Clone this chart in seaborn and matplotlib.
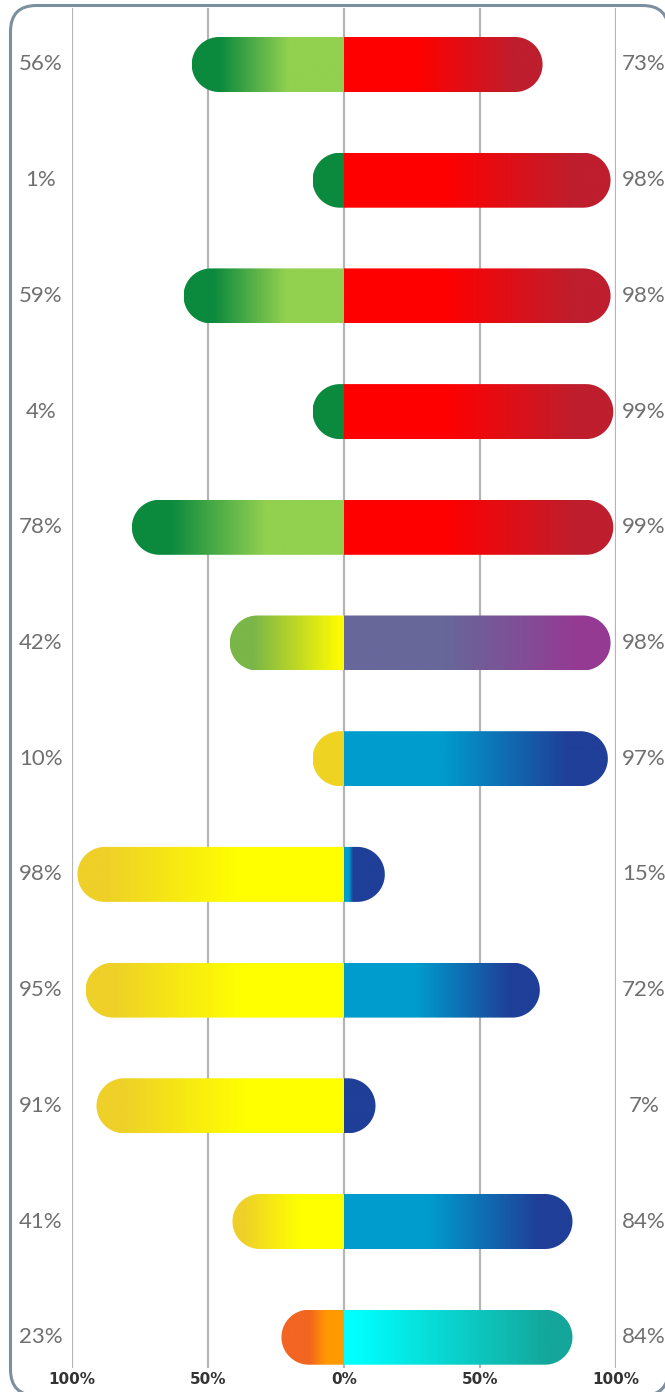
import numpy as np
import pandas as pd
import matplotlib
matplotlib.use("Agg")
import matplotlib.pyplot as plt
import seaborn as sns
from matplotlib import font_manager
from matplotlib.colors import LinearSegmentedColormap
from matplotlib.patches import Polygon, FancyBboxPatch

# ════════════════════════════════════════════════════════
# DATA
# ════════════════════════════════════════════════════════
rows = [f"row{i}" for i in range(12)]
left_values = [56, 1, 59, 4, 78, 42, 10, 98, 95, 91, 41, 23]
right_values = [73, 98, 98, 99, 99, 98, 97, 15, 72, 7, 84, 84]
tick_values = [-100, -50, 0, 50, 100]
tick_labels = ["100%", "50%", "0%", "50%", "100%"]

# colour stops: 0 = centre line, 1 = rounded outer end
GREEN = [(0, "#92d050"), (0.37, "#92d050"), (0.82, "#0b8a3e"), (1, "#0b8a3e")]
DARK_GREEN = [(0, "#0b8a3e"), (1, "#0b8a3e")]
LIME = [(0, "#ffff00"), (0.1, "#f6f606"), (0.8, "#7ab648"), (1, "#7ab648")]
GOLD = [(0, "#efd322"), (1, "#efd322")]
YELLOW = [(0, "#ffff00"), (0.4, "#ffff00"), (0.9, "#eed028"), (1, "#eed028")]
ORANGE = [(0, "#ff9900"), (0.28, "#ff9900"), (0.55, "#f26522"), (1, "#f26522")]
RED = [(0, "#ff0000"), (0.37, "#ff0000"), (0.86, "#be1e2d"), (1, "#be1e2d")]
PURPLE = [(0, "#67679a"), (0.38, "#67679a"), (0.88, "#953a93"), (1, "#953a93")]
BLUE = [(0, "#009ccd"), (0.37, "#009ccd"), (0.85, "#1f3f98"), (1, "#1f3f98")]
BLUE_SHORT = [(0, "#009ccd"), (0.12, "#009ccd"), (0.22, "#1f3f98"), (1, "#1f3f98")]
NAVY = [(0, "#1f3f98"), (1, "#1f3f98")]
CYAN = [(0, "#00ffff"), (0.05, "#00ffff"), (0.9, "#14a69a"), (1, "#14a69a")]

left_colors = [GREEN, DARK_GREEN, GREEN, DARK_GREEN, GREEN, LIME, GOLD,
               YELLOW, YELLOW, YELLOW, YELLOW, ORANGE]
right_colors = [RED, RED, RED, RED, RED, PURPLE, BLUE,
                BLUE_SHORT, BLUE, NAVY, BLUE, CYAN]

# ════════════════════════════════════════════════════════
# STYLE
# ════════════════════════════════════════════════════════
sns.set_theme(style="white")
names = {f.name for f in font_manager.fontManager.ttflist}
LABEL_FONT = "Liberation Sans Narrow" if "Liberation Sans Narrow" in names else "Lato"
plt.rcParams["font.family"] = ["DejaVu Sans"]

W, H = 665, 1392
AX_L, AX_R, AX_T, AX_B = 72, 616, 8, 1368
ROW0, ROW_STEP, BAR_PX = 64.5, 115.7, 55

fig = plt.figure(figsize=(W / 100, H / 100), dpi=100)

# rounded frame in pixel space
bg = fig.add_axes([0, 0, 1, 1], zorder=0)
bg.set_xlim(0, W)
bg.set_ylim(H, 0)
bg.axis("off")
bg.add_patch(FancyBboxPatch((10.5, 5.5), 658, 1390,
                            boxstyle="round,pad=0,rounding_size=26",
                            fc="white", ec="#7b909e", lw=2.2))

ax = fig.add_axes([AX_L / W, 1 - AX_B / H, (AX_R - AX_L) / W, (AX_B - AX_T) / H], zorder=1)
ax.patch.set_alpha(0)

# ════════════════════════════════════════════════════════
# BARS
# ════════════════════════════════════════════════════════
df_left = pd.DataFrame({"row": rows, "value": [-v for v in left_values]})
df_right = pd.DataFrame({"row": rows, "value": right_values})
bar_w = BAR_PX / ROW_STEP
for d in (df_left, df_right):
    sns.barplot(data=d, x="value", y="row", order=rows, orient="h", width=bar_w,
                color="grey", errorbar=None, ax=ax)

ax.set_xlim(-100, 100)
ax.set_ylim((AX_B - ROW0) / ROW_STEP, (AX_T - ROW0) / ROW_STEP)

sx = (AX_R - AX_L) / 200.0
r_px = BAR_PX / 2
rx = r_px / sx
min_len = (r_px + 4) / sx


def draw_pill(p, stops):
    w = p.get_width()
    side = 1 if w >= 0 else -1
    length = max(abs(w), min_len)
    yc = p.get_y() + p.get_height() / 2
    ry = p.get_height() / 2
    theta = np.linspace(-np.pi / 2, np.pi / 2, 80)
    cx = side * (length - rx)
    arc_x = cx + side * rx * np.cos(theta)
    arc_y = yc + ry * np.sin(theta)
    pts = np.column_stack([np.r_[0, arc_x, 0], np.r_[yc - ry, arc_y, yc + ry]])

    cmap = LinearSegmentedColormap.from_list("g", stops)
    img = cmap(np.linspace(0, 1, 300))[None, :, :]
    if side < 0:
        img = img[:, ::-1]
    xa, xb = sorted([0, side * length])
    im = ax.imshow(img, extent=(xa, xb, yc + ry, yc - ry), aspect="auto",
                   interpolation="bilinear", zorder=2)
    im.set_clip_path(Polygon(pts, closed=True, transform=ax.transData))
    p.set_visible(False)


patches = list(ax.patches)
for p, stops in zip(patches[:12], left_colors):
    draw_pill(p, stops)
for p, stops in zip(patches[12:24], right_colors):
    draw_pill(p, stops)

ax.set_xlim(-100, 100)
ax.set_ylim((AX_B - ROW0) / ROW_STEP, (AX_T - ROW0) / ROW_STEP)

# ════════════════════════════════════════════════════════
# AXES, GRID, LABELS
# ════════════════════════════════════════════════════════
ax.set_xticks(tick_values)
ax.set_xticklabels(tick_labels, fontweight="bold", color="#333333", fontsize=11)
ax.tick_params(axis="x", length=0, pad=3)
ax.set_yticks([])
ax.set_xlabel("")
ax.set_ylabel("")
ax.xaxis.grid(True, color="#b5b5b5", lw=1.6)
ax.yaxis.grid(False)
ax.set_axisbelow(True)
for s in ax.spines.values():
    s.set_visible(False)

for i, (lv, rv) in enumerate(zip(left_values, right_values)):
    ax.annotate(f"{lv}%", xy=(41, i), xycoords=("figure pixels", "data"),
                ha="center", va="center", fontsize=16, color="#6f6f6f",
                family=LABEL_FONT, annotation_clip=False)
    ax.annotate(f"{rv}%", xy=(644, i), xycoords=("figure pixels", "data"),
                ha="center", va="center", fontsize=16, color="#6f6f6f",
                family=LABEL_FONT, annotation_clip=False)

fig.savefig("out.png", dpi=100)
